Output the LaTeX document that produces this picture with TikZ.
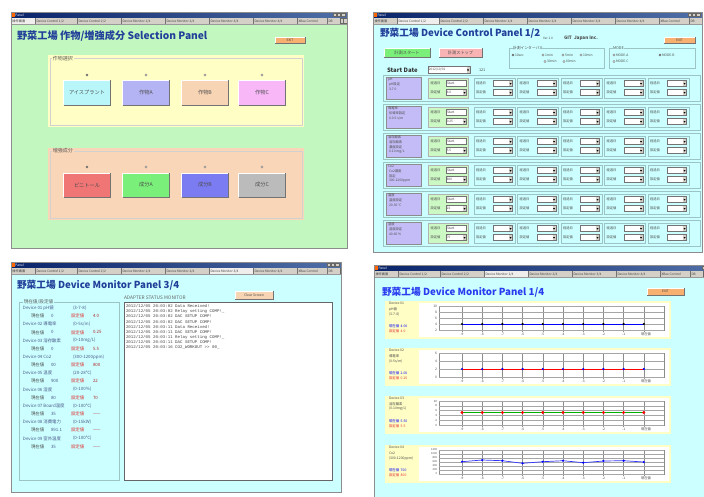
\documentclass[tikz,border=0pt]{standalone}
\usepackage{fontspec}
\setmainfont{Noto Sans CJK JP}
\newfontfamily\logface{Liberation Mono}
\definecolor{tbdark}{HTML}{0A246A}
\definecolor{tblight}{HTML}{A6CAF0}
\definecolor{tabgray}{HTML}{D4D0C8}
\definecolor{greenbg}{HTML}{C2F8C0}
\definecolor{cyanbg}{HTML}{CCFFFF}
\definecolor{yelbox}{HTML}{FFFEC4}
\definecolor{peachbox}{HTML}{FAD6B8}
\definecolor{titleblue}{HTML}{22409A}
\definecolor{brightblue}{HTML}{2A3CF0}
\definecolor{exitorange}{HTML}{F8B070}
\definecolor{btcyan}{HTML}{B8F6FA}
\definecolor{btlav}{HTML}{B4B4F4}
\definecolor{btpeach}{HTML}{F6D4B4}
\definecolor{btpink}{HTML}{F8B8F8}
\definecolor{btred}{HTML}{F07676}
\definecolor{btgreen}{HTML}{7AF07A}
\definecolor{btblue}{HTML}{7C7CF2}
\definecolor{btgray}{HTML}{BBBBBB}
\definecolor{btrose}{HTML}{F8B4B4}
\definecolor{rowpurple}{HTML}{C4BCF6}
\definecolor{rowgreen}{HTML}{CCF8C4}
\definecolor{frameline}{HTML}{9CC4C4}
\definecolor{setred}{HTML}{E03030}
\definecolor{devtext}{HTML}{4A5A8A}

\newcount\cbcount

% application window: name, x1, y1, x2, y2, body colour, active tab offset, active tab width
\newcommand\winbox[8]{%
  \fill[#6] (#2,#3) rectangle (#4,#5);
  \shade[left color=tbdark, right color=tbdark!55!tblight] (#2,#3) rectangle (#4,{(#3)+5.5});
  \fill[orange!80!red] ({(#2)+1},{(#3)+1}) rectangle ({(#2)+3.5},{(#3)+4.5});
  \node[anchor=west, text=white, font=\fontsize{3.2}{3.2}\selectfont] (#1-cap) at ({(#2)+4.5},{(#3)+2.75}) {Panel};
  \foreach \bx in {14,10,5.5}{%
    \filldraw[fill=tabgray, draw=black!60, line width=0.25] ({(#4)-\bx},{(#3)+1}) rectangle ({(#4)-\bx+3.6},{(#3)+4.6});}
  \fill[tabgray] (#2,{(#3)+5.5}) rectangle (#4,{(#3)+12.5});
  \begin{scope}
    \clip (#2,#3) rectangle (#4,#5);
    \fill[white!65!tabgray] ({(#2)+(#7)},{(#3)+5.5}) rectangle ({(#2)+(#7)+(#8)},{(#3)+12.5});
    \foreach \off/\lab [count=\k] in {0/操作画面, 24/{Device Control 1/2}, 66/{Device Control 2/2},
        110/{Device Monitor 1/4}, 154/{Device Monitor 2/4}, 198/{Device Monitor 3/4},
        242/{Device Monitor 4/4}, 286/{XBee Control}, 316/DB}{%
      \draw[black!55, line width=0.3] ({(#2)+\off},{(#3)+6.2}) -- ({(#2)+\off},{(#3)+12});
      \node[tabtext, anchor=west] (#1-tab\k) at ({(#2)+\off+1.5},{(#3)+9.2}) {\lab};}
    \filldraw[fill=tabgray, draw=black!60, line width=0.25] ({(#2)+329},{(#3)+6.5}) rectangle ({(#2)+332.5},{(#3)+11.5});
    \filldraw[fill=tabgray, draw=black!60, line width=0.25] ({(#2)+332.5},{(#3)+6.5}) rectangle ({(#2)+336},{(#3)+11.5});
  \end{scope}
  \draw[black!40, line width=0.3] (#2,{(#3)+12.5}) -- (#4,{(#3)+12.5});
  \draw[black!45, line width=0.5] (#2,#3) rectangle (#4,#5);
}

% raised push button: name, x1, y1, x2, y2, fill, text, font size
\newcommand\bevel[8]{%
  \fill[#6] (#2,#3) rectangle (#4,#5);
  \draw[white, line width=0.5] (#2,#5) -- (#2,#3) -- (#4,#3);
  \draw[black!55, line width=0.9] ({(#2)+0.4},#5) -- (#4,#5) -- (#4,{(#3)+0.4});
  \node[text=black!70, font=\fontsize{#8}{#8}\selectfont] (#1) at ({((#2)+(#4))/2},{((#3)+(#5))/2}) {#7};
}

% option button: x, y, selected (1/0)
\newcommand\radio[3]{%
  \filldraw[fill=white, draw=black!55, line width=0.3] (#1,#2) circle (1.2);
  \ifnum#3=1 \fill[black] (#1,#2) circle (0.55);\fi
}

% drop-down box: x1, y1, x2, y2, text
\newcommand\combo[5]{%
  \global\advance\cbcount by 1
  \filldraw[fill=white, draw=black!55, line width=0.3] (#1,#2) rectangle (#3,#4);
  \fill[tabgray] ({(#3)-3.5},{(#2)+0.4}) rectangle ({(#3)-0.4},{(#4)-0.4});
  \fill[black] ({(#3)-3},{(#2)+0.42*((#4)-(#2))}) -- ({(#3)-0.9},{(#2)+0.42*((#4)-(#2))}) -- ({(#3)-1.95},{(#2)+0.68*((#4)-(#2))}) -- cycle;
  \node[font=\fontsize{3.2}{3.2}\selectfont, anchor=west, text=black!70] (cb\the\cbcount) at ({(#1)+0.8},{((#2)+(#4))/2}) {#5};
}

% chart background with grid columns and time labels: name, top
\newcommand\chartbase[2]{%
  \fill[yelbox] (385,#2) rectangle (671,{(#2)+38});
  \fill[white] (419,{(#2)+2}) rectangle (669,{(#2)+36});
  \draw[black!45, line width=0.35] (439,{(#2)+5}) rectangle (664,{(#2)+29});
  \foreach \k in {0,...,9}{%
    \draw[black!45, line width=0.35] ({462+20.2*\k},{(#2)+5}) -- ({462+20.2*\k},{(#2)+31});}
  \foreach \lab [count=\k from 0] in {-9,-8,-7,-6,-5,-4,-3,-2,-1}{%
    \node[axlab] (#1-x\k) at ({462+20.2*\k},{(#2)+33.2}) {\lab};}
  \node[axlab] (#1-now) at (646,{(#2)+33.2}) {現在値};
}

% chart caption: name, top, device, quantity, range, current, setting
\newcommand\chartinfo[7]{%
  \node[infotxt] (#1-dev) at (389,{(#2)+2.5}) {Device #3};
  \node[infotxt] (#1-nm) at (389,{(#2)+8}) {#4};
  \node[infotxt] (#1-rg) at (389,{(#2)+13}) {#5};
  \node[infotxt, text=blue] (#1-cur) at (389,{(#2)+25.5}) {現在値\ \ #6};
  \node[infotxt, text=setred] (#1-set) at (389,{(#2)+30.5}) {設定値\ \ #7};
}

\begin{document}
\begin{tikzpicture}[x=1pt,y=-1pt,inner sep=0pt,outer sep=0pt,
  tabtext/.style={font=\fontsize{3.2}{3.2}\selectfont, text=black!75},
  ptitle/.style={font=\bfseries\fontsize{9.7}{10}\selectfont, text=titleblue, anchor=west},
  grplabel/.style={font=\fontsize{5}{5}\selectfont, text=black!65, anchor=west, inner xsep=0.8pt},
  small/.style={font=\fontsize{3.8}{3.8}\selectfont, text=black!70, anchor=west},
  rowtxt/.style={font=\fontsize{3.3}{3.4}\selectfont, text=black!70, anchor=west},
  devtxt/.style={font=\fontsize{4.4}{4.4}\selectfont, text=devtext, anchor=west},
  logtxt/.style={font=\logface\fontsize{4.1}{4.1}\selectfont, text=black!75, anchor=west},
  axlab/.style={font=\fontsize{3.3}{3.3}\selectfont, text=black!70},
  infotxt/.style={font=\fontsize{3.4}{3.4}\selectfont, text=black!70, anchor=west}]

\useasboundingbox (0,0) rectangle (704,496);
\fill[white] (0,0) rectangle (704,496);

%% ---------- selection panel ----------
\winbox{pa}{11}{12}{347}{248}{greenbg}{0}{24}
\node[ptitle, font=\bfseries\fontsize{10.2}{10}\selectfont] (pa-title) at (17,36) {野菜工場 作物/増強成分 Selection Panel};
\bevel{pa-exit}{275}{37}{305}{43}{exitorange}{EXIT}{3.4}

\fill[yelbox] (48,55) rectangle (304,127);
\draw[black!18, line width=0.3] (50,58.5) rectangle (302,125);
\node[grplabel, fill=yelbox] (pa-g1) at (52,58.5) {作物選択};
\foreach \cx/\col/\lab/\sel [count=\k] in {87/btcyan/アイスプラント/1, 146/btlav/作物A/0, 205/btpeach/作物B/0, 262/btpink/作物C/0}{%
  \radio{\cx}{75}{\sel}
  \bevel{pa-c\k}{\cx-23.5}{80}{\cx+23.5}{105}{\col}{\lab}{5.2}}

\fill[peachbox] (48,148) rectangle (304,220);
\draw[black!18, line width=0.3] (50,151) rectangle (302,218);
\node[grplabel, fill=peachbox] (pa-g2) at (52,151) {増強成分};
\foreach \cx/\col/\lab/\sel [count=\k] in {87/btred/ピニトール/1, 146/btgreen/成分A/0, 205/btblue/成分B/0, 262/btgray/成分C/0}{%
  \radio{\cx}{167}{\sel}
  \bevel{pa-e\k}{\cx-23.5}{173}{\cx+23.5}{197}{\col}{\lab}{5.2}}

%% ---------- device control panel ----------
\winbox{pb}{373}{12}{702}{252}{cyanbg}{24}{42}
\node[ptitle] (pb-title) at (380,33) {野菜工場 Device Control Panel 1/2};
\node[small, font=\fontsize{3.2}{3.2}\selectfont] (pb-ver) at (543,38.5) {Ver 1.0};
\node[small, font=\bfseries\fontsize{4.6}{4.6}\selectfont] (pb-corp) at (564,38.5) {GIT\ \ Japan Inc.};
\bevel{pb-exit}{664}{37}{695}{43}{exitorange}{EXIT}{3.4}
\bevel{pb-start}{384}{48}{430}{57}{btgreen}{計測スタート}{4.2}
\bevel{pb-stop}{439}{48}{482}{57}{btrose}{計測ストップ}{4.2}

\draw[frameline, line width=0.4] (509,48.5) rectangle (604,68);
\node[small, fill=cyanbg] (pb-int) at (513,48.5) {計測インターバル};
\foreach \rx/\ry/\lab/\sel [count=\k] in {513/55/10sec/1, 543/55/1min/0, 563/55/5min/0, 581/55/10min/0, 545/61.5/30min/0, 564/61.5/60min/0}{%
  \radio{\rx}{\ry}{\sel}
  \node[small, font=\fontsize{3.3}{3.3}\selectfont] (pb-iv\k) at (\rx+2,\ry) {\lab};}
\draw[frameline, line width=0.4] (609,48.5) rectangle (695,68);
\node[small, fill=cyanbg] (pb-mode) at (613,48.5) {MODE};
\foreach \rx/\ry/\lab/\sel [count=\k] in {614/55/MODE-A/0, 660/55/MODE-B/1, 614/61.5/MODE-C/0}{%
  \radio{\rx}{\ry}{\sel}
  \node[small, font=\fontsize{3.3}{3.3}\selectfont] (pb-md\k) at (\rx+2,\ry) {\lab};}

\node[small, font=\bfseries\fontsize{6}{6}\selectfont, text=black!80] (pb-sd) at (387,70) {Start Date};
\combo{428}{66.5}{470}{73.5}{2012/10/01}
\node[small] (pb-day) at (479,70) {121};

\foreach \h/\la/\lb/\lc/\sv [count=\r from 0] in {pH/pH設定/3-7.0//4.0, 導電率/伝導率設定/{0-0.5 s/m}//0.25,
    溶存酸素/溶存酸素/濃度設定/{0-10 mg/L}/5.5, Co2/Co2濃度/設定/300-1200ppm/800,
    温度/温度設定/20-30 ℃//22, 湿度/湿度設定/40-60 \%//70}{%
  \pgfmathsetmacro\yt{75+29*\r}
  \draw[frameline, line width=0.4] (383,\yt) rectangle (700,\yt+26);
  \filldraw[fill=rowpurple, draw=black!45, line width=0.4] (386,\yt+2) rectangle (421,\yt+24);
  \node[rowtxt] (pb-rh\r) at (388,\yt+4.5) {\h};
  \node[rowtxt] (pb-ra\r) at (389,\yt+9.5) {\la};
  \node[rowtxt] (pb-rb\r) at (389,\yt+14) {\lb};
  \node[rowtxt] (pb-rc\r) at (389,\yt+18.5) {\lc};
  \filldraw[fill=rowgreen, draw=black!30, line width=0.4] (428,\yt+3) rectangle (468,\yt+23);
  \node[rowtxt] (pb-gl\r) at (430.5,\yt+8.5) {経過日};
  \filldraw[fill=white, draw=black!55, line width=0.3] (446,\yt+5.5) rectangle (466.5,\yt+11.5);
  \node[rowtxt] (pb-gs\r) at (447,\yt+8.5) {Start};
  \node[rowtxt] (pb-gv\r) at (430.5,\yt+17.5) {設定値};
  \combo{446}{\yt+14.5}{466.5}{\yt+20.5}{\sv}
  \foreach \c in {0,...,4}{%
    \pgfmathsetmacro\xc{474+43.5*\c}
    \draw[frameline, line width=0.3] (\xc,\yt+3) rectangle (\xc+41,\yt+23);
    \node[rowtxt] (pb-cl\r-\c) at (\xc+2,\yt+8.5) {経過日};
    \combo{\xc+19.5}{\yt+5.5}{\xc+38.5}{\yt+11.5}{}
    \node[rowtxt] (pb-cv\r-\c) at (\xc+2,\yt+17.5) {設定値};
    \combo{\xc+19.5}{\yt+14.5}{\xc+38.5}{\yt+20.5}{}}}

%% ---------- device monitor panel 3/4 ----------
\winbox{pc}{11}{262}{341}{492}{cyanbg}{198}{44}
\node[ptitle] (pc-title) at (17,285) {野菜工場 Device Monitor Panel 3/4};
\draw[frameline, line width=0.4] (19,302) rectangle (119,480);
\node[grplabel, fill=cyanbg, font=\fontsize{4.6}{4.6}\selectfont] (pc-grp) at (23,302) {現在値/設定値};
\foreach \dn/\nm/\rg/\cv/\sv [count=\i from 0] in {01/pH値/(3-7-8)/0/4.0, 02/導電率/{(0-5s/m)}/0/0.25,
    03/溶存酸素/{(0-10mg/L)}/0/5.5, 04/Co2/(300-1200ppm)/00/800, 05/温度/(20-28℃)/900/22,
    06/湿度/(0-100\%)/80/70, 07/Board温度/(0-100℃)/35/\_\_\_, 08/消費電力/(0-15kW)/891.1/\_\_\_,
    09/室外温度/(0-100℃)/35/\_\_\_}{%
  \pgfmathsetmacro\yd{308+16.3*\i}
  \node[devtxt] (pc-d\i) at (23,\yd) {Device \dn\ \nm};
  \node[devtxt] (pc-r\i) at (73,\yd) {\rg};
  \node[devtxt, text=black!70] (pc-cl\i) at (31,\yd+8.1) {現在値};
  \node[devtxt] (pc-cv\i) at (51,\yd+8.1) {\cv};
  \node[devtxt, text=setred] (pc-sl\i) at (71,\yd+8.1) {設定値};
  \node[devtxt, text=setred!80!black] (pc-sv\i) at (93,\yd+8.1) {\sv};}

\node[small, font=\fontsize{4.8}{4.8}\selectfont, text=black!60] (pc-mon) at (124,298) {ADAPTER STATUS MONITOR};
\bevel{pc-clear}{235}{291}{273}{299}{btpeach}{Clear Screen}{3.4}
\filldraw[fill=white, draw=black!60, line width=0.5] (124,302) rectangle (332,480);
\foreach \ln [count=\i from 0] in {2012/12/05 20:03:02 Data Received!, 2012/12/05 20:03:02 Relay setting COMP!\_,
    2012/12/05 20:03:02 DAC SETUP COMP!, 2012/12/05 20:03:02 DAC SETUP COMP!, 2012/12/05 20:03:11 Data Received!,
    2012/12/05 20:03:11 DAC SETUP COMP!, 2012/12/05 20:03:11 Relay setting COMP!\_, 2012/12/05 20:03:11 DAC SETUP COMP!,
    2012/12/05 20:03:16 CO2\_WORKOUT >> 00\_}{%
  \node[logtxt] (pc-log\i) at (126,306+5.2*\i) {\ln};}

%% ---------- device monitor panel 1/4 ----------
\winbox{pd}{374}{265}{716}{500}{cyanbg}{110}{44}
\node[ptitle, text=brightblue] (pd-title) at (382,292) {野菜工場 Device Monitor Panel 1/4};
\bevel{pd-exit}{647}{288}{684}{295}{exitorange}{EXIT}{3.4}

% pH chart
\chartbase{ca}{301}
\chartinfo{ca}{301}{01}{pH値}{(3-7-8)}{4.00}{4.0}
\foreach \v [count=\k from 0] in {10,8,6,4,2}{%
  \draw[black!35, line width=0.3] (439,306+6*\k) -- (664,306+6*\k);
  \node[axlab, anchor=east] (ca-y\k) at (437,306+6*\k) {\v};}
\draw[blue, line width=0.7] (462,324) -- (644,324);
\foreach \k in {0,...,9}{\fill[black] ({462+20.2*\k},324) circle (1.2);}

% conductivity chart
\chartbase{cb}{348}
\chartinfo{cb}{348}{02}{導電率}{(0-5s/m)}{2.00}{0.25}
\foreach \v [count=\k from 0] in {6,4,2,0}{%
  \draw[black!35, line width=0.3] (439,353+8*\k) -- (664,353+8*\k);
  \node[axlab, anchor=east] (cb-y\k) at (437,353+8*\k) {\v};}
\draw[red, line width=0.7] (462,369) -- (644,369);
\foreach \k in {0,...,9}{\fill[blue] ({462+20.2*\k},369) circle (1.2);}

% dissolved oxygen chart
\chartbase{cc}{396}
\chartinfo{cc}{396}{03}{溶存酸素}{(0-10mg/L)}{5.50}{5.5}
\foreach \v [count=\k from 0] in {10,8,6,4,2,0}{%
  \draw[black!35, line width=0.3] (439,401+4.8*\k) -- (664,401+4.8*\k);
  \node[axlab, anchor=east, font=\fontsize{2.9}{2.9}\selectfont] (cc-y\k) at (437,401+4.8*\k) {\v};}
\draw[green!70!black, line width=0.7] (462,412.5) -- (644,412.5);
\foreach \k in {0,...,9}{\fill[red] ({462+20.2*\k},412.5) circle (1.6);}

% CO2 chart
\chartbase{cd}{445}
\chartinfo{cd}{445}{04}{Co2}{(300-1200ppm)}{700}{800}
\foreach \v [count=\k from 0] in {1200,1000,800,600,400,200,0}{%
  \draw[black!35, line width=0.3] (439,450+4*\k) -- (664,450+4*\k);
  \node[axlab, anchor=east, font=\fontsize{2.7}{2.7}\selectfont] (cd-y\k) at (437,450+4*\k) {\v};}
\foreach \yy [count=\k from 0] in {461.7,460,460.7,463.3,461.7,460.7,462.7,461,460.7,462}{%
  \coordinate (cd-p\k) at ({462+20.2*\k},\yy);}
\draw[blue!80, line width=0.7] (cd-p0) -- (cd-p1) -- (cd-p2) -- (cd-p3) -- (cd-p4) -- (cd-p5) -- (cd-p6) -- (cd-p7) -- (cd-p8) -- (cd-p9);
\foreach \k in {0,...,9}{\fill[blue] (cd-p\k) circle (1.2);}

\end{tikzpicture}
\end{document}
